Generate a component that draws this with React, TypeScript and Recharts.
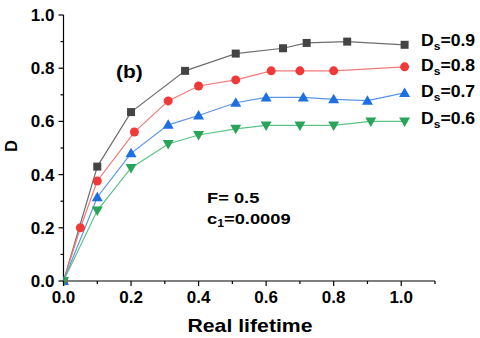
import React from "react";
import { LineChart, Line, XAxis, YAxis, Customized } from "recharts";

type Pt = { x: number; y: number };

const ds09: Pt[] = [
  { x: 0, y: 0 },
  { x: 0.1, y: 0.43 },
  { x: 0.2, y: 0.635 },
  { x: 0.36, y: 0.79 },
  { x: 0.51, y: 0.855 },
  { x: 0.65, y: 0.875 },
  { x: 0.72, y: 0.895 },
  { x: 0.84, y: 0.9 },
  { x: 1.01, y: 0.888 },
];
const ds08: Pt[] = [
  { x: 0, y: 0 },
  { x: 0.05, y: 0.2 },
  { x: 0.1, y: 0.376 },
  { x: 0.21, y: 0.56 },
  { x: 0.31, y: 0.677 },
  { x: 0.4, y: 0.733 },
  { x: 0.51, y: 0.756 },
  { x: 0.615, y: 0.79 },
  { x: 0.7, y: 0.79 },
  { x: 0.8, y: 0.79 },
  { x: 1.01, y: 0.805 },
];
const ds07: Pt[] = [
  { x: 0, y: 0 },
  { x: 0.1, y: 0.315 },
  { x: 0.2, y: 0.48 },
  { x: 0.31, y: 0.587 },
  { x: 0.4, y: 0.622 },
  { x: 0.51, y: 0.67 },
  { x: 0.6, y: 0.69 },
  { x: 0.71, y: 0.69 },
  { x: 0.8, y: 0.683 },
  { x: 0.9, y: 0.678 },
  { x: 1.01, y: 0.707 },
];
const ds06: Pt[] = [
  { x: 0, y: 0 },
  { x: 0.1, y: 0.265 },
  { x: 0.2, y: 0.425 },
  { x: 0.31, y: 0.515 },
  { x: 0.4, y: 0.549 },
  { x: 0.51, y: 0.572 },
  { x: 0.6, y: 0.585 },
  { x: 0.7, y: 0.585 },
  { x: 0.8, y: 0.585 },
  { x: 0.91, y: 0.6 },
  { x: 1.01, y: 0.6 },
];

const xTicks = [0, 0.1, 0.2, 0.3, 0.4, 0.5, 0.6, 0.7, 0.8, 0.9, 1.0, 1.1];
const yTicks = [0, 0.1, 0.2, 0.3, 0.4, 0.5, 0.6, 0.7, 0.8, 0.9, 1.0];

const legendLabels = [
  { sub: "0.9", y: 46 },
  { sub: "0.8", y: 71 },
  { sub: "0.7", y: 97 },
  { sub: "0.6", y: 124 },
];

const FONT = "'Liberation Sans', Arial, sans-serif";

const isMajor = (v: number) => Math.round(v * 10) % 2 === 0;

const XTick = (props: any) => {
  const { x, y, payload } = props;
  const major = isMajor(payload.value);
  return (
    <g>
      <line x1={x} y1={y} x2={x} y2={y + (major ? 5 : 3)} stroke="#000" strokeWidth={1.2} />
      {major && (
        <text x={x} y={y + 22} textAnchor="middle" fontSize={17} fontWeight="bold" fontFamily={FONT} fill="#000">
          {payload.value.toFixed(1)}
        </text>
      )}
    </g>
  );
};

const YTick = (props: any) => {
  const { x, y, payload } = props;
  const major = isMajor(payload.value);
  return (
    <g>
      <line x1={x} y1={y} x2={x - (major ? 5 : 3)} y2={y} stroke="#000" strokeWidth={1.2} />
      {major && (
        <text x={x - 9} y={y + 6} textAnchor="end" fontSize={17} fontWeight="bold" fontFamily={FONT} fill="#000">
          {payload.value.toFixed(1)}
        </text>
      )}
    </g>
  );
};

const square = (fill: string) => (p: any) => (
  <rect key={p.key} x={p.cx - 4} y={p.cy - 4} width={8} height={8} fill={fill} />
);
const circle = (fill: string) => (p: any) => (
  <circle key={p.key} cx={p.cx} cy={p.cy} r={4.5} fill={fill} />
);
const triUp = (fill: string) => (p: any) => (
  <polygon
    key={p.key}
    points={`${p.cx},${p.cy - 5.5} ${p.cx - 5.5},${p.cy + 4} ${p.cx + 5.5},${p.cy + 4}`}
    fill={fill}
  />
);
const triDown = (fill: string) => (p: any) => (
  <polygon
    key={p.key}
    points={`${p.cx},${p.cy + 5.5} ${p.cx - 5.5},${p.cy - 4} ${p.cx + 5.5},${p.cy - 4}`}
    fill={fill}
  />
);

const at = (x: number, y: number, sx: number) => `translate(${x} ${y}) scale(${sx} 1)`;

const Annotations = () => (
  <g fontFamily={FONT} fontWeight="bold" fill="#000">
    <text transform={at(116, 78, 1.1)} fontSize={19}>(b)</text>
    <text transform={at(207, 203, 1.22)} fontSize={15}>F= 0.5</text>
    <text transform={at(207, 224, 1.22)} fontSize={15}>
      c<tspan fontSize={10} dy={3}>1</tspan>
      <tspan dy={-3}>=0.0009</tspan>
    </text>
    {legendLabels.map((l) => (
      <text key={l.sub} transform={at(421, l.y, 1.1)} fontSize={16}>
        D<tspan fontSize={11} dy={4}>s</tspan>
        <tspan dy={-4}>={l.sub}</tspan>
      </text>
    ))}
    <text transform={at(250, 332, 1.18)} fontSize={18} textAnchor="middle">Real lifetime</text>
    <text x={13} y={146} fontSize={16} textAnchor="middle" transform="rotate(-90 13 146)" dominantBaseline="middle">
      D
    </text>
  </g>
);

export default function App() {
  return (
    <div style={{ position: "absolute", left: 0, top: 0, width: 480, height: 338, background: "#fff" }}>
      <LineChart width={480} height={338} margin={{ top: 15, right: 45, bottom: 7, left: 13.5 }}>
        <XAxis
          type="number"
          dataKey="x"
          domain={[0, 1.1]}
          ticks={xTicks}
          interval={0}
          tickSize={0}
          tickMargin={0}
          tickLine={false}
          tick={<XTick />}
          height={50}
          axisLine={{ stroke: "#000", strokeWidth: 1.2 }}
          allowDataOverflow
        />
        <YAxis
          type="number"
          domain={[0, 1]}
          ticks={yTicks}
          interval={0}
          tickSize={0}
          tickMargin={0}
          tickLine={false}
          tick={<YTick />}
          width={50}
          axisLine={{ stroke: "#000", strokeWidth: 1.2 }}
        />
        <Line data={ds09} dataKey="y" stroke="#6e6e6e" strokeWidth={1.2} dot={square("#444")} isAnimationActive={false} />
        <Line data={ds08} dataKey="y" stroke="#f27a7a" strokeWidth={1.2} dot={circle("#f03a3a")} isAnimationActive={false} />
        <Line data={ds07} dataKey="y" stroke="#5b95e8" strokeWidth={1.2} dot={triUp("#1e6fe0")} isAnimationActive={false} />
        <Line data={ds06} dataKey="y" stroke="#5cc286" strokeWidth={1.2} dot={triDown("#2aa45a")} isAnimationActive={false} />
        <Customized component={Annotations} />
      </LineChart>
    </div>
  );
}
